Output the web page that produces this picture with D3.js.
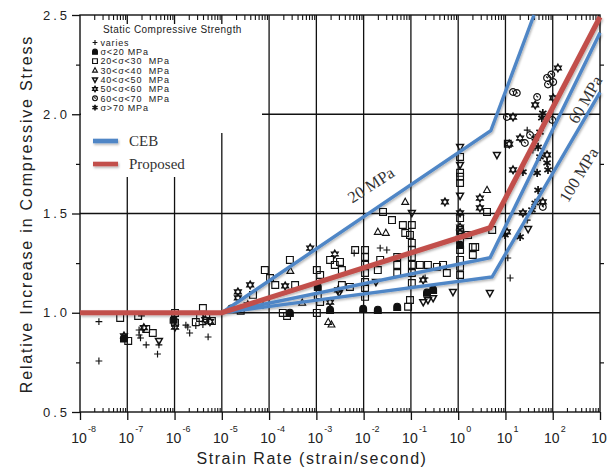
<!DOCTYPE html>
<html><head><meta charset="utf-8">
<script src="https://cdn.jsdelivr.net/npm/d3@7"></script>
<style>body{margin:0;background:#fff}svg{display:block}</style>
</head><body>
<svg id="chart" width="608" height="470"></svg>
<script>
// Decade exponents along the strain-rate axis and the stress-ratio ticks
const decades = [-8,-7,-6,-5,-4,-3,-2,-1,0,1,2,3];
const yTicks = [0.5,1.0,1.5,2.0,2.5];
const yMinor = [0.75,1.25,1.75,2.25];
const gridY = [1.0,1.5,2.0];

const legendTitle = "Static Compressive Strength";
const groupLabels = ["varies","σ<20 MPa","20<σ<30  MPa","30<σ<40  MPa","40<σ<50  MPa","50<σ<60  MPa","60<σ<70  MPa","σ>70 MPa"];
const groupSymbols = ["plus","bell","square","tri","tridown","hex","circ","ast"];

// Test results: [log10 strain rate, relative increase in strength]
const varies = [[-7.60,0.955],[-7.60,0.757],[-6.70,0.984],[-6.75,0.913],[-6.75,0.888],[-6.72,0.873],[-6.60,0.838],[-6.33,0.838],[-6.36,0.792],[-5.76,0.938],[-5.72,0.928],[-5.68,0.898],[-5.55,0.935],[-5.29,0.878],[-5.40,0.94],[-2.20,1.30],[-1.65,1.326],[-1.51,1.316],[-0.70,1.175],[1.05,1.276],[1.10,1.175],[1.58,1.82],[1.46,1.467],[1.46,1.92]];
const lt20 = [[-7.07,0.87],[-6.02,0.965],[-4.80,1.02],[-3.56,0.999],[-2.97,1.13],[-2.71,1.014],[-2.01,1.019],[-1.70,1.014],[-1.29,1.029],[-0.66,1.10],[-0.53,1.115],[0.04,1.341]];
const s20to30 = [[-7.15,0.974],[-6.98,0.858],[-6.77,0.984],[-6.60,0.918],[-6.46,0.898],[-5.99,0.999],[-5.99,0.95],[-5.55,0.953],[-5.46,0.974],[-5.40,1.024],[-5.33,0.984],[-5.21,0.958],
 [-4.60,1.01],[-4.20,1.04],[-4.34,1.09],[-4.09,1.215],[-3.98,1.175],[-3.87,1.14],[-3.71,0.999],[-3.62,0.984],
 [-3.45,1.14],[-3.56,1.266],[-2.71,1.266],[-2.61,1.241],[-2.50,1.256],[-2.46,1.215],[-2.92,1.19],[-2.46,1.14],[-2.29,1.13],[-2.99,0.999],
 [-2.99,1.215],[-2.97,1.08],[-2.92,1.054],
 [-1.97,1.316],[-1.97,1.281],[-1.97,1.241],[-1.97,1.200],[-1.97,1.155],[-1.97,1.125],[-1.97,1.080],
 [-2.18,1.316],[-1.70,1.215],[-1.65,1.266],[-1.59,1.508],[-1.40,1.467],[-1.17,1.442],[-0.98,1.442],[-1.12,1.402],[-1.02,1.392],[-0.98,1.352],
 [-0.98,1.316],[-0.98,1.281],[-0.98,1.241],[-0.98,1.200],[-0.98,1.15],[-1.02,1.064],[-1.06,1.03],
 [-1.29,1.281],[-1.29,1.241],[-1.29,1.200],
 [-0.81,1.241],[-0.64,1.241],[-0.45,1.231],[-0.32,1.241],[-0.24,1.2],
 [0.04,1.785],[0.04,1.705],[0.04,1.685],[0.04,1.654],[0.04,1.477],[0.04,1.417],[0.04,1.367],[0.04,1.316],[0.04,1.266],[0.04,1.231],[0.04,1.19],
 [0.31,1.331],[0.31,1.291],[0.21,1.392],[0.36,1.331],[0.61,1.508],[0.72,1.417],[1.05,1.851]];
const s30to40 = [[-3.55,1.21],[-2.75,0.953],[-2.68,0.94],[-1.53,1.402],[-1.70,1.407],[-1.12,1.558],[0.61,1.618],[-3.30,1.05]];
const s40to50 = [[-6.33,0.858],[-2.52,1.10],[-0.98,1.503],[-1.74,1.155],[-0.74,1.054],[-0.64,1.064],[-0.53,1.074],[-0.11,1.105],[0.67,1.10],[0.04,1.835],[0.04,1.745],[0.82,1.795],[1.48,1.422],[0.04,1.59]];
const s50to60 = [[-7.07,0.883],[-6.65,0.925],[-5.99,0.928],[-5.25,0.955],[-5.35,0.965],[-4.66,1.105],[-4.66,1.075],[-4.45,1.04],[-4.40,1.14],[-3.66,1.135],[-3.13,1.326],[-2.61,1.296],[-2.71,1.054],[-2.54,1.115],[-0.74,1.165],[-0.28,1.558],[0.46,1.578],[0.46,1.528],[0.04,1.503],[0.04,1.432],[0.04,1.402],[1.03,1.407],[1.16,1.986],[1.63,2.047],[2.11,2.233],[2.01,2.082],[1.08,1.85],[1.31,1.88],[1.16,1.72],[1.88,1.795],[1.79,1.558],[1.37,1.503]];
const s60to70 = [[1.16,2.112],[1.24,2.107],[1.03,1.986],[1.67,2.087],[1.88,2.183],[2.01,2.162],[1.97,2.20],[1.99,1.971],[1.52,1.895],[1.41,1.855],[1.79,1.533],[1.90,2.15]];
const gt70 = [[1.79,2.006],[1.77,1.981],[1.63,1.88],[1.73,1.91],[1.69,1.835],[1.73,1.785],[1.37,1.71],[1.67,1.705],[1.88,1.755],[1.90,1.72],[1.69,1.618],[1.63,1.553],[1.56,1.518],[1.31,1.382],[0.99,1.392]];
const groups = [varies,lt20,s20to30,s30to40,s40to50,s50to60,s60to70,gt70];

// Model curves: [log10 strain rate, relative increase]
const cebLow = [[-5,1.0],[0.69,1.917],[1.604,2.5]];
const cebMid = [[-5,1.0],[0.674,1.277],[3,2.41]];
const cebHigh = [[-5,1.0],[0.716,1.18],[3,2.11]];
const proposed = [[-8,1.0],[-5,1.0],[0.674,1.428],[3,2.49]];
const curveLabels = [
  {text:"20 MPa", at:[-1.78,1.62], angle:-33},
  {text:"60 MPa", at:[2.79,2.06], angle:-60},
  {text:"100 MPa", at:[2.65,1.68], angle:-59}
];

const svg = d3.select("#chart");
const x = d3.scaleLog().domain([1e-8,1e3]).range([80,600]);
const y = d3.scaleLinear().domain([0.5,2.5]).range([412,15]);
const X = l => x(Math.pow(10,l));
const ink = "#111";
const BLUE = "#4f86c6", RED = "#c2504c";

const defs = svg.append("defs");
const sh = defs.append("filter").attr("id","shadow").attr("filterUnits","userSpaceOnUse")
  .attr("x",0).attr("y",0).attr("width",608).attr("height",470);
sh.append("feDropShadow").attr("dx",1).attr("dy",1.5).attr("stdDeviation",1).attr("flood-color","#000").attr("flood-opacity",0.3);

// grid
const grid = svg.append("g").attr("stroke",ink).attr("stroke-width",1.3);
grid.selectAll("line.v").data(decades.slice(1,-1)).join("line")
  .attr("x1",d=>x(Math.pow(10,d))).attr("x2",d=>x(Math.pow(10,d)))
  .attr("y1",y(2.5)).attr("y2",y(0.5));
grid.selectAll("line.h").data(gridY).join("line")
  .attr("x1",x(1e-8)).attr("x2",x(1e3)).attr("y1",d=>y(d)).attr("y2",d=>y(d));

// legend background clears the grid behind the key
svg.append("path").attr("fill","#fff")
  .attr("d","M81,24H262V133H219V177H81Z");

// minor log ticks along bottom and top
const minorX = [];
decades.slice(0,-1).forEach(d=>{for(let k=2;k<10;k++) minorX.push(k*Math.pow(10,d));});
svg.append("g").attr("transform",`translate(0,${y(0.5)})`)
  .call(d3.axisBottom(x).tickValues(minorX).tickSize(-4).tickFormat(""))
  .call(g=>{g.select(".domain").remove(); g.selectAll("line").attr("stroke",ink).attr("stroke-width",1.1);});
svg.append("g").attr("transform",`translate(0,${y(2.5)})`)
  .call(d3.axisTop(x).tickValues(minorX).tickSize(-5).tickFormat(""))
  .call(g=>{g.select(".domain").remove(); g.selectAll("line").attr("stroke",ink).attr("stroke-width",1.1);});
// major decade ticks below the axis
svg.append("g").attr("transform",`translate(0,${y(0.5)})`)
  .call(d3.axisBottom(x).tickValues(decades.map(d=>Math.pow(10,d))).tickSize(8).tickFormat(""))
  .call(g=>{g.select(".domain").remove(); g.selectAll("line").attr("stroke",ink).attr("stroke-width",1.3);});

// y axis ticks and labels
svg.append("g").attr("transform",`translate(${x(1e-8)},0)`)
  .call(d3.axisLeft(y).tickValues(yTicks).tickSize(8).tickPadding(2).tickFormat(d3.format(".1f")))
  .call(g=>{g.select(".domain").remove();
    g.selectAll("line").attr("stroke",ink).attr("stroke-width",1.3);
    g.selectAll("text").attr("fill","#222").style("font-family","'Liberation Sans',Arial,sans-serif")
      .style("font-size","13px").style("letter-spacing","3px");});
svg.append("g").attr("transform",`translate(${x(1e-8)},0)`)
  .call(d3.axisLeft(y).tickValues(yMinor).tickSize(4).tickFormat(""))
  .call(g=>{g.select(".domain").remove(); g.selectAll("line").attr("stroke",ink).attr("stroke-width",1.2);});
svg.append("g").attr("transform",`translate(${x(1e3)},0)`)
  .call(d3.axisRight(y).tickValues(yMinor).tickSize(4).tickFormat(""))
  .call(g=>{g.select(".domain").remove(); g.selectAll("line").attr("stroke",ink).attr("stroke-width",1.2);});

// frame
svg.append("rect").attr("x",x(1e-8)).attr("y",y(2.5))
  .attr("width",x(1e3)-x(1e-8)).attr("height",y(0.5)-y(2.5))
  .attr("fill","none").attr("stroke",ink).attr("stroke-width",1.4);

// decade labels 10^n (the last exponent falls beyond the page edge)
const xl = svg.append("g").attr("fill","#222").style("font-family","'Liberation Sans',Arial,sans-serif");
xl.selectAll("text.base").data(decades).join("text")
  .attr("x",d=>X(d)-1).attr("y",443).attr("text-anchor","middle").style("font-size","14px").text("10");
xl.selectAll("text.exp").data(decades.slice(0,-1)).join("text")
  .attr("x",d=>X(d)+8).attr("y",432).style("font-size","9px").text(d=>d);

// axis titles
svg.append("text").attr("x",312).attr("y",464).attr("text-anchor","middle")
  .style("font-family","'Liberation Sans',Arial,sans-serif").style("font-size","16px").style("letter-spacing","1.5px")
  .attr("fill","#222").text("Strain Rate (strain/second)");
svg.append("text").attr("transform","translate(32,214) rotate(-90)").attr("text-anchor","middle")
  .style("font-family","'Liberation Sans',Arial,sans-serif").style("font-size","16px").style("letter-spacing","1.8px")
  .attr("fill","#222").text("Relative Increase in Compressive Stress");

// symbol shapes
function symbolPath(kind, s){
  switch(kind){
    case "plus": return `M${-s},0H${s}M0,${-s}V${s}`;
    case "bell": return `M${-s},${s}V${-s*0.1}A${s},${s} 0 0 1 ${s},${-s*0.1}V${s}Z`;
    case "square": return `M${-s},${-s}H${s}V${s}H${-s}Z`;
    case "tri": return `M0,${-s*1.1}L${s},${s*0.7}H${-s}Z`;
    case "tridown": return `M0,${s*1.1}L${s},${-s*0.7}H${-s}Z`;
    case "hex": return `M0,${-s*1.2}L${s*1.04},${s*0.6}H${-s*1.04}ZM0,${s*1.2}L${s*1.04},${-s*0.6}H${-s*1.04}Z`;
    case "circ": return `M${s},0A${s},${s} 0 1 1 ${-s},0A${s},${s} 0 1 1 ${s},0ZM${-s*0.3},${-s*0.4}L${s*0.3},${s*0.1}`;
    case "ast": return d3.symbol(d3.symbolAsterisk, s*s*4.2)();
  }
}
function styleSym(sel, kind){
  const filled = kind==="bell";
  sel.attr("fill", filled ? ink : "none").attr("stroke", ink)
     .attr("stroke-width", kind==="ast" ? 1.7 : (kind==="tridown" ? 1.5 : 1.15));
}

// observations
const pts = svg.append("g");
groups.forEach((data,i)=>{
  const kind = groupSymbols[i];
  pts.append("g").selectAll("path").data(data).join("path")
    .attr("transform",d=>`translate(${X(d[0])},${y(d[1])})`)
    .attr("d",symbolPath(kind,3.4))
    .call(styleSym,kind);
});

// model curves
const line = d3.line().x(d=>X(d[0])).y(d=>y(d[1]));
const curves = svg.append("g").attr("fill","none").attr("stroke-linejoin","miter").attr("filter","url(#shadow)");
[cebLow,cebMid,cebHigh].forEach(c=>curves.append("path").datum(c).attr("d",line).attr("stroke",BLUE).attr("stroke-width",3.4));
curves.append("path").datum(proposed).attr("d",line).attr("stroke",RED).attr("stroke-width",5.2);

svg.append("g").selectAll("text").data(curveLabels).join("text")
  .attr("transform",d=>`translate(${X(d.at[0])},${y(d.at[1])}) rotate(${d.angle})`)
  .attr("text-anchor","middle").attr("fill","#333")
  .style("font-family","'Liberation Serif','Times New Roman',serif").style("font-size","16.5px")
  .text(d=>d.text);

// key
const key = svg.append("g").style("font-family","'Liberation Sans',Arial,sans-serif").attr("fill","#222");
key.append("text").attr("x",103).attr("y",33).style("font-size","10px").style("letter-spacing","0.45px").text(legendTitle);
groupLabels.forEach((t,i)=>{
  const cy = 42.5 + i*9.3;
  key.append("path").attr("transform",`translate(95,${cy})`).attr("d",symbolPath(groupSymbols[i],2.4))
    .call(styleSym,groupSymbols[i]);
  key.append("text").attr("x",100.5).attr("y",cy+3.3).style("font-size","9px").style("letter-spacing","0.8px")
    .style("white-space","pre").text(t);
});
const lk = svg.append("g").style("font-family","'Liberation Serif','Times New Roman',serif").style("font-size","15px").attr("fill","#333");
[["CEB",BLUE,141],["Proposed",RED,164]].forEach(([t,c,cy])=>{
  lk.append("rect").attr("x",93).attr("width",25).attr("y",cy-2.3).attr("height",4.6)
    .attr("fill",c).attr("filter","url(#shadow)");
  lk.append("text").attr("x",129).attr("y",cy+5).text(t);
});
</script>
</body></html>
